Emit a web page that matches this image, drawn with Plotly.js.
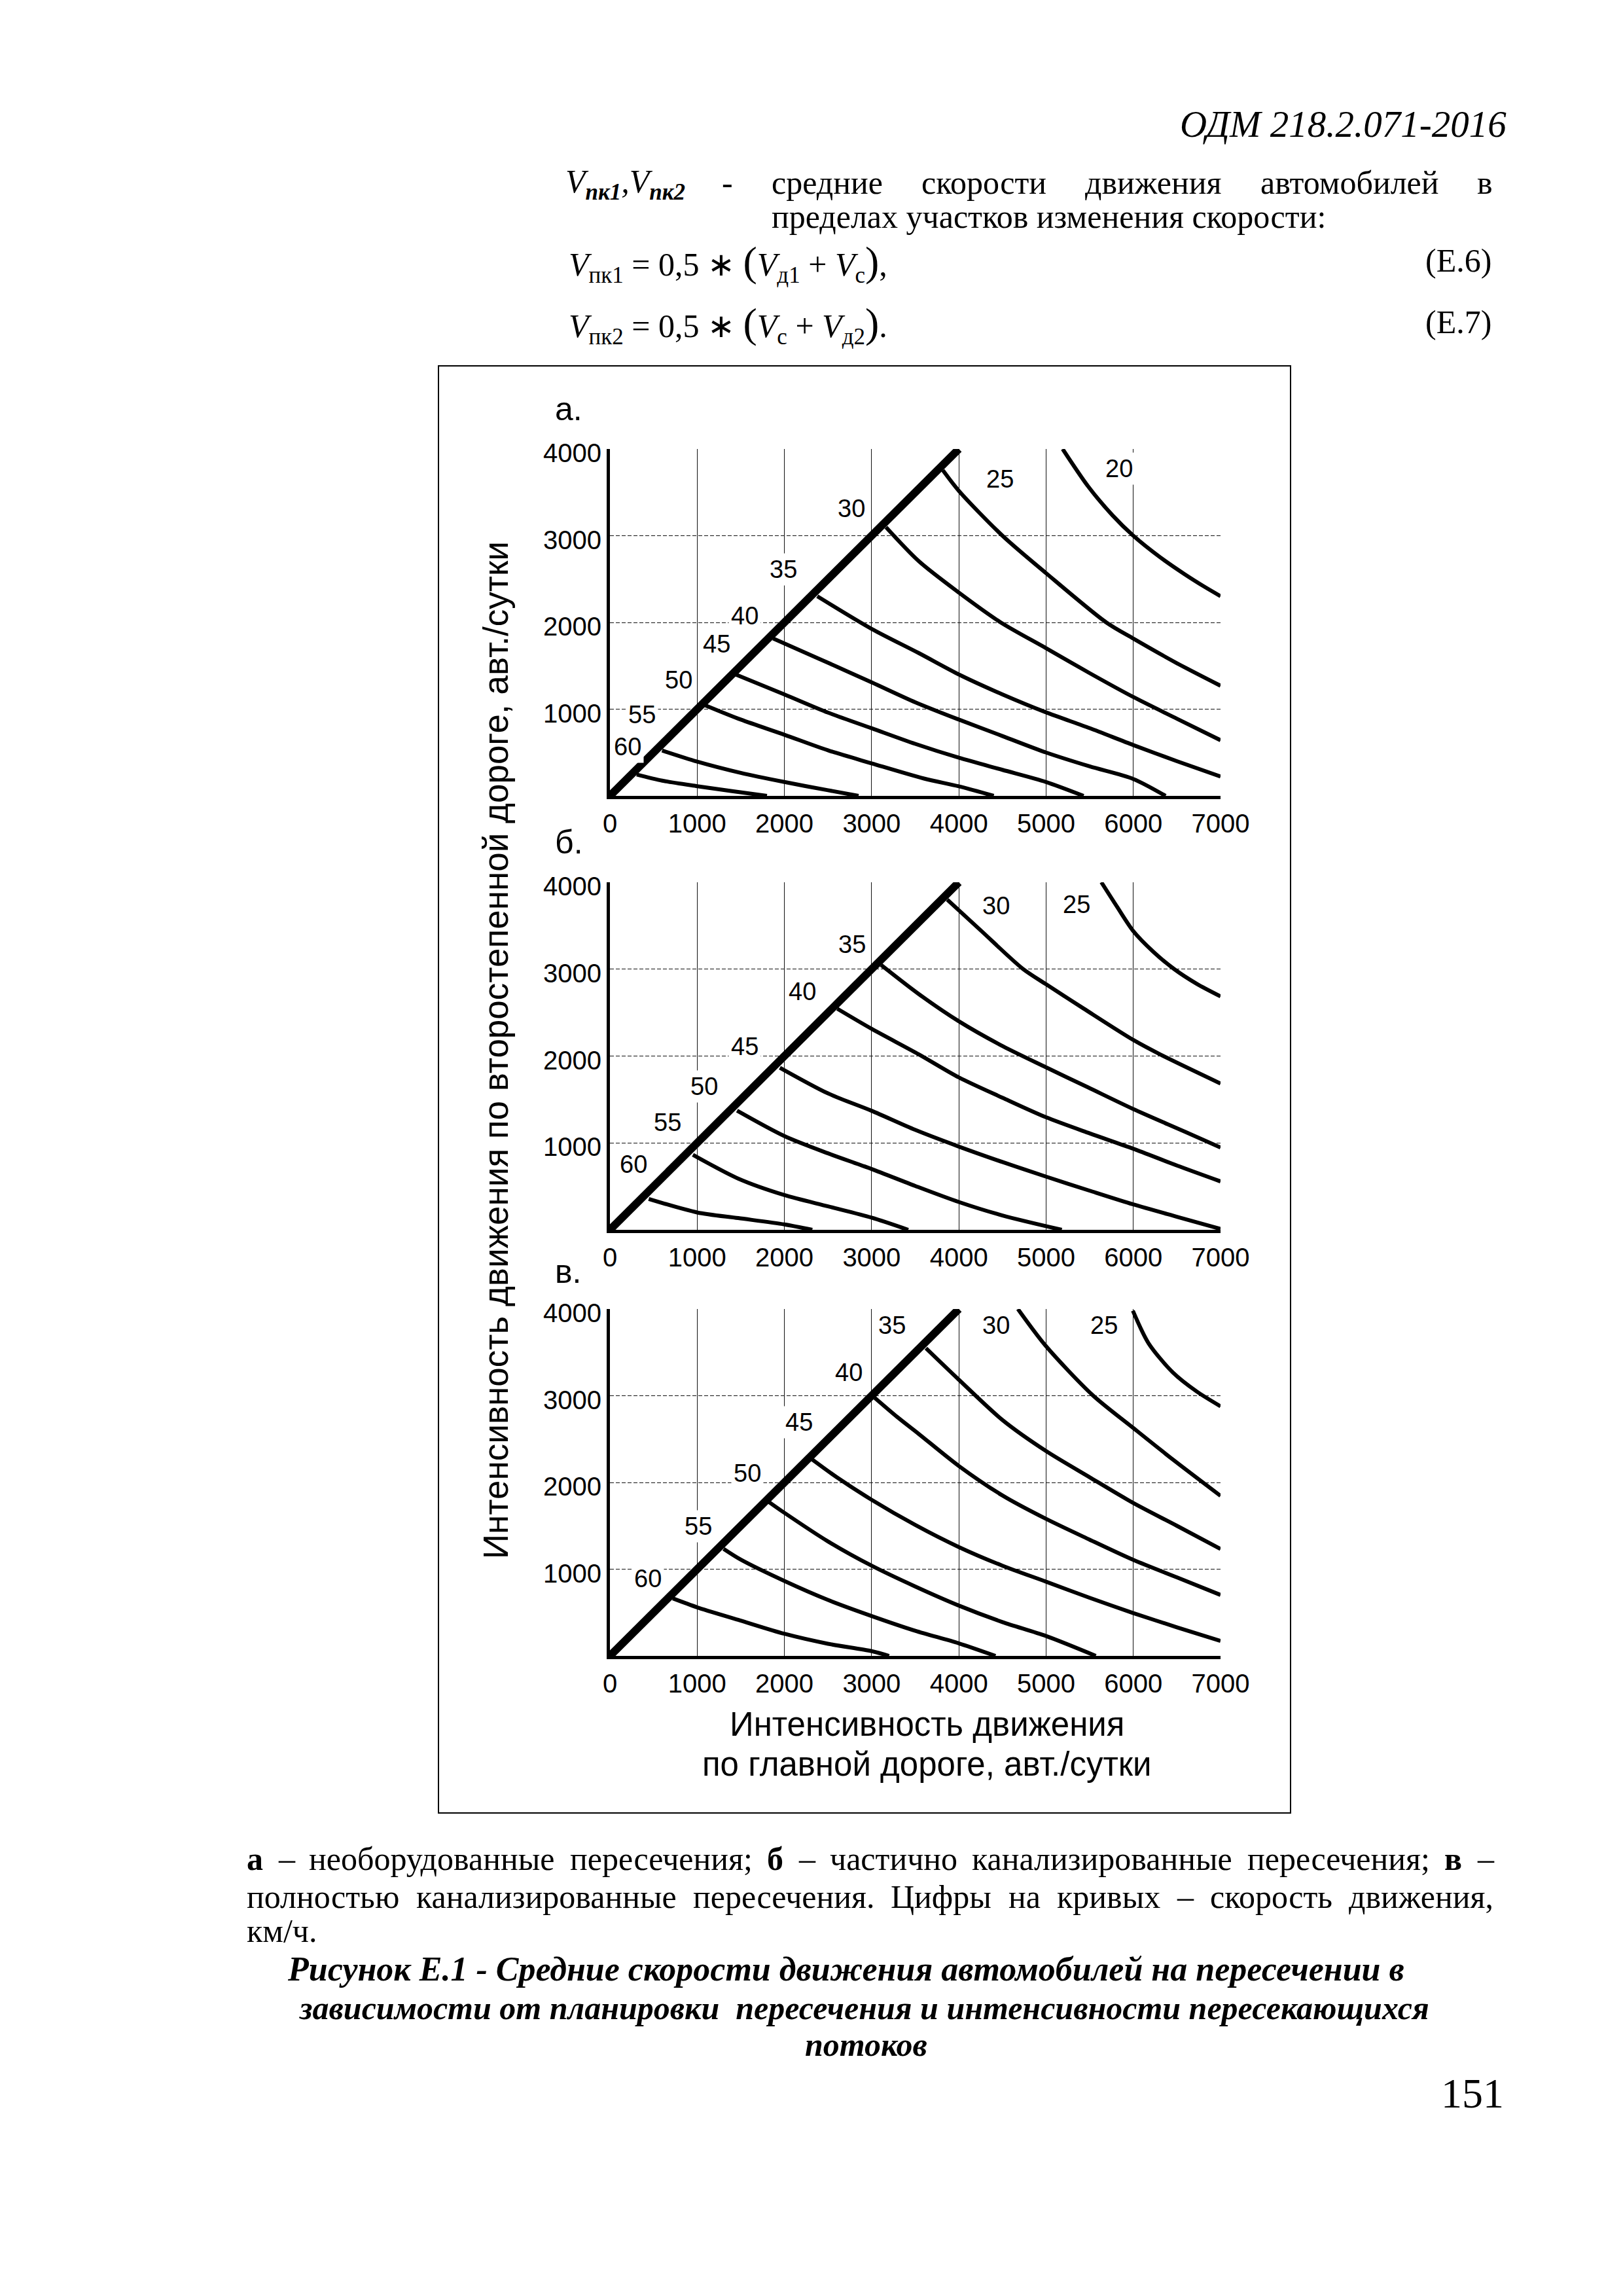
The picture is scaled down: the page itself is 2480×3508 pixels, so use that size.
<!DOCTYPE html>
<html><head><meta charset="utf-8">
<script src="https://cdn.plot.ly/plotly-3.0.1.min.js"></script>
<style>html,body{margin:0;padding:0;background:#fff}</style>
</head><body><div id="chart" style="width:2480px;height:3508px"></div>
<script>
// ---------- DATA ----------
const xTicks = [0, 1000, 2000, 3000, 4000, 5000, 6000, 7000];
const yTicks = [1000, 2000, 3000, 4000];
const diagX = [0, 4000];
const diagY = [0, 4000];

// panel а (необорудованные)
const a60x = [307, 600, 1000, 1400, 1800],            a60y = [246, 175, 112, 55, 0];
const a55x = [598, 1000, 1500, 2000, 2500, 2850],      a55y = [523, 395, 265, 160, 65, 0];
const a50x = [1089, 1500, 2000, 2500, 3000, 3600, 4000, 4400], a50y = [1046, 880, 705, 525, 375, 200, 110, 0];
const a45x = [1441, 2000, 2500, 3000, 3500, 4000, 4500, 5000, 5430], a45y = [1400, 1170, 960, 780, 600, 440, 300, 160, 0];
const a40x = [1871, 2400, 3000, 3500, 4000, 4500, 5000, 5500, 6000, 6370], a40y = [1815, 1580, 1310, 1080, 880, 690, 500, 340, 195, 0];
const a35x = [2377, 3000, 3540, 4000, 4500, 5000, 5500, 6000, 6500, 7000], a35y = [2302, 1926, 1647, 1400, 1170, 963, 781, 586, 400, 223];
const a30x = [3165, 3540, 4000, 4480, 5000, 5500, 6000, 6500, 7000], a30y = [3098, 2707, 2344, 2000, 1703, 1415, 1140, 890, 642];
const a25x = [3817, 4000, 4500, 5000, 5690, 6000, 6500, 7000], a25y = [3754, 3517, 3000, 2568, 2000, 1814, 1530, 1270];
const a20x = [5190, 5480, 5760, 6000, 6310, 6590, 6810, 7000], a20y = [4000, 3572, 3237, 3000, 2750, 2555, 2415, 2303];
const aLabT = ['60', '55', '50', '45', '40', '35', '30', '25', '20'];
const aLabX = [199, 368, 791, 1221, 1543, 1987, 2766, 4469, 5837];
const aLabY = [569, 938, 1338, 1754, 2077, 2609, 3317, 3656, 3773];

// panel б (частично канализированные)
const b60x = [445, 1000, 1470, 2000, 2320],            b60y = [355, 200, 135, 62, 0];
const b55x = [951, 1470, 2000, 2500, 3000, 3420],      b55y = [864, 590, 400, 270, 140, 0];
const b50x = [1457, 2000, 2500, 3000, 3500, 4000, 4500, 5180], b50y = [1372, 1079, 880, 700, 505, 320, 165, 0];
const b45x = [1948, 2500, 3000, 3500, 4000, 4500, 5000, 5500, 6000, 6500, 7000], b45y = [1866, 1570, 1370, 1150, 958, 780, 612, 450, 292, 150, 10];
const b40x = [2607, 3000, 3540, 4000, 4500, 5000, 5500, 6000, 6500, 7000], b40y = [2544, 2313, 2020, 1754, 1520, 1295, 1110, 933, 740, 557];
const b35x = [3109, 3540, 4000, 4510, 5000, 5480, 6000, 6590, 7000], b35y = [3048, 2714, 2400, 2110, 1870, 1640, 1390, 1130, 947];
const b30x = [3867, 4260, 4730, 5000, 5430, 6000, 6310, 7000], b30y = [3800, 3438, 3007, 2826, 2547, 2185, 2018, 1684];
const b25x = [5634, 5815, 6000, 6230, 6470, 6730, 7000], b25y = [4000, 3716, 3438, 3200, 3000, 2830, 2687];
const bLabT = ['60', '55', '50', '45', '40', '35', '30', '25'];
const bLabX = [270, 659, 1080, 1549, 2208, 2776, 4427, 5349];
const bLabY = [756, 1234, 1650, 2113, 2745, 3284, 3731, 3745];

// panel в (полностью канализированные)
const c60x = [721, 1000, 1470, 2000, 2500, 3000, 3200], c60y = [663, 560, 416, 255, 140, 55, 0];
const c55x = [1303, 1500, 2000, 2500, 3000, 3500, 4000, 4420], c55y = [1234, 1110, 864, 645, 460, 290, 145, 0];
const c50x = [1825, 2000, 2500, 3000, 3500, 4000, 4500, 5000, 5570], c50y = [1773, 1650, 1320, 1040, 800, 580, 390, 229, 0];
const c45x = [2316, 2600, 3000, 3500, 4000, 4500, 5000, 5500, 6000, 6500, 7000], c45y = [2267, 2060, 1800, 1510, 1255, 1040, 856, 670, 494, 330, 173];
const c40x = [3036, 3300, 3540, 4000, 4500, 5000, 5500, 6000, 6500, 7000], c40y = [2976, 2750, 2560, 2190, 1850, 1580, 1340, 1107, 905, 703];
const c35x = [3623, 4000, 4500, 5000, 5500, 6000, 6500, 7000], c35y = [3548, 3185, 2720, 2362, 2060, 1763, 1500, 1233];
const c30x = [4677, 4996, 5537, 6001, 6453, 7000], c30y = [4000, 3575, 3004, 2627, 2265, 1846];
const c25x = [5995, 6176, 6453, 6731, 7000], c25y = [3980, 3603, 3269, 3046, 2878];
const cLabT = ['60', '55', '50', '45', '40', '35', '30', '25'];
const cLabX = [436, 1012, 1573, 2171, 2736, 3236, 4427, 5662];
const cLabY = [894, 1496, 2106, 2698, 3269, 3809, 3813, 3813];

const panelLetters = ['а.', 'б.', 'в.'];
const yTitle = 'Интенсивность движения по второстепенной дороге, авт./сутки';
const xTitle1 = 'Интенсивность движения';
const xTitle2 = 'по главной дороге, авт./сутки';

// ---------- LAYOUT HELPERS ----------
const W = 2480, H = 3508;
const px = x => x / W, py = y => 1 - y / H;
const serif = 'Liberation Serif, Times New Roman, serif';
const sans = 'Liberation Sans, Arial, sans-serif';

const plotL = 932, plotR = 1865;
const panelTB = [[686, 1216], [1348, 1879], [2000, 2530]];

const traces = [];
const ann = [];
const suffix = ['', '2', '3'];

function curve(xs, ys, k, w) {
  traces.push({
    x: xs, y: ys, xaxis: 'x' + suffix[k], yaxis: 'y' + suffix[k],
    type: 'scatter', mode: 'lines', hoverinfo: 'skip', showlegend: false,
    line: {color: '#000', width: w, shape: 'spline', smoothing: 0.8}
  });
}
const panels = [
  {curves: [[a60x, a60y], [a55x, a55y], [a50x, a50y], [a45x, a45y], [a40x, a40y], [a35x, a35y], [a30x, a30y], [a25x, a25y], [a20x, a20y]], lt: aLabT, lx: aLabX, ly: aLabY},
  {curves: [[b60x, b60y], [b55x, b55y], [b50x, b50y], [b45x, b45y], [b40x, b40y], [b35x, b35y], [b30x, b30y], [b25x, b25y]], lt: bLabT, lx: bLabX, ly: bLabY},
  {curves: [[c60x, c60y], [c55x, c55y], [c50x, c50y], [c45x, c45y], [c40x, c40y], [c35x, c35y], [c30x, c30y], [c25x, c25y]], lt: cLabT, lx: cLabX, ly: cLabY}
];

const layout = {
  width: W, height: H, margin: {l: 0, r: 0, t: 0, b: 0},
  paper_bgcolor: '#fff', plot_bgcolor: '#fff', showlegend: false,
  shapes: [], annotations: ann
};

panels.forEach((p, k) => {
  p.curves.forEach(c => curve(c[0], c[1], k, 6));
  curve(diagX, diagY, k, 12);
  p.lt.forEach((t, i) => ann.push({
    text: t, x: p.lx[i], y: p.ly[i], xref: 'x' + suffix[k], yref: 'y' + suffix[k],
    showarrow: false, bgcolor: '#fff', borderpad: 3,
    font: {family: sans, size: 38, color: '#000'}
  }));
  const [t, b] = panelTB[k];
  layout['xaxis' + suffix[k]] = {
    domain: [px(plotL), px(plotR)], anchor: 'y' + suffix[k], range: [0, 7000],
    tickmode: 'array', tickvals: xTicks, ticktext: xTicks.map(String),
    showgrid: true, gridcolor: '#111', gridwidth: 1,
    showline: true, linecolor: '#000', linewidth: 5, zeroline: false,
    ticks: '', ticklabelstandoff: 3,
    tickfont: {family: sans, size: 40, color: '#000'}, fixedrange: true
  };
  layout['yaxis' + suffix[k]] = {
    domain: [py(b), py(t)], anchor: 'x' + suffix[k], range: [0, 4000],
    tickmode: 'array', tickvals: yTicks, ticktext: yTicks.map(String),
    showgrid: true, gridcolor: '#111', gridwidth: 1, griddash: '6px,3px',
    showline: true, linecolor: '#000', linewidth: 5, zeroline: false,
    ticks: '', ticklabelstandoff: 0, ticklabelshift: 6,
    tickfont: {family: sans, size: 40, color: '#000'}, fixedrange: true
  };
});

function txt(text, x, y, size, opts) {
  opts = opts || {};
  ann.push({
    text, x: px(x), y: py(y), xref: 'paper', yref: 'paper', showarrow: false,
    xanchor: opts.xa || 'center', yanchor: 'middle', textangle: opts.angle || 0,
    borderpad: 0, align: opts.align || 'center',
    font: {family: opts.family || serif, size, color: '#000'}
  });
}

// panel letters
const letterY = [625, 1287, 1943];
panelLetters.forEach((l, k) => txt(l, 847, letterY[k], 50, {xa: 'left', family: sans}));
// axis titles
txt(yTitle, 757, 1605, 53, {angle: -90, family: sans});
txt(xTitle1, 1416, 2634, 51, {family: sans});
txt(xTitle2, 1416, 2695, 51, {family: sans});
// frame
layout.shapes.push({type: 'rect', xref: 'paper', yref: 'paper', x0: px(670), x1: px(1972), y0: py(2770), y1: py(559), line: {color: '#000', width: 2}});

// justified text lines via canvas measurement
const cv = document.createElement('canvas').getContext('2d');
function tw(s, size, bold, italic) {
  cv.font = (italic ? 'italic ' : '') + (bold ? 'bold ' : '') + size + 'px "Liberation Serif"';
  return cv.measureText(s.replace(/<[^>]+>/g, '')).width;
}
function justify(words, left, right, y, size) {
  const widths = words.map(w => tw(w, size, /<b>/.test(w), false));
  const total = widths.reduce((a, b) => a + b, 0);
  const gap = (right - left - total) / (words.length - 1);
  let x = left;
  words.forEach((w, i) => { txt(w, x, y, size, {xa: 'left'}); x += widths[i] + gap; });
}

// header and formulas
txt('<i>ОДМ 218.2.071-2016</i>', 2303, 190, 57, {xa: 'right'});
txt('<i>V<sub><b>пк1</b></sub>,V<sub><b>пк2</b></sub></i>', 863, 281, 50, {xa: 'left'});
txt('-', 1111, 279, 50);
justify(['средние', 'скорости', 'движения', 'автомобилей', 'в'], 1178, 2280, 279, 50);
txt('пределах участков изменения скорости:', 1178, 331, 50, {xa: 'left'});
txt('<i>V</i><sub>пк1</sub> = 0,5 ∗ <span style="font-size:64px">(</span><i>V</i><sub>д1</sub> + <i>V</i><sub>с</sub><span style="font-size:64px">)</span>,', 868, 402, 50, {xa: 'left'});
txt('(Е.6)', 2280, 398, 50, {xa: 'right'});
txt('<i>V</i><sub>пк2</sub> = 0,5 ∗ <span style="font-size:64px">(</span><i>V</i><sub>с</sub> + <i>V</i><sub>д2</sub><span style="font-size:64px">)</span>.', 868, 496, 50, {xa: 'left'});
txt('(Е.7)', 2280, 492, 50, {xa: 'right'});

// caption
justify(['<b>а</b>', '–', 'необорудованные', 'пересечения;', '<b>б</b>', '–', 'частично', 'канализированные', 'пересечения;', '<b>в</b>', '–'], 376, 2281, 2840, 50);
justify(['полностью', 'канализированные', 'пересечения.', 'Цифры', 'на', 'кривых', '–', 'скорость', 'движения,'], 376, 2281, 2898, 50);
txt('км/ч.', 376, 2950, 50, {xa: 'left'});
txt('<b><i>Рисунок Е.1 - Средние скорости движения автомобилей на пересечении в</i></b>', 1292, 3008, 52);
txt('<b><i>зависимости от планировки  пересечения и интенсивности пересекающихся</i></b>', 1320, 3068, 50);
txt('<b><i>потоков</i></b>', 1323, 3124, 50);
txt('151', 2299, 3198, 64, {xa: 'right'});

Plotly.newPlot('chart', traces, layout, {displayModeBar: false, staticPlot: true});
</script></body></html>
